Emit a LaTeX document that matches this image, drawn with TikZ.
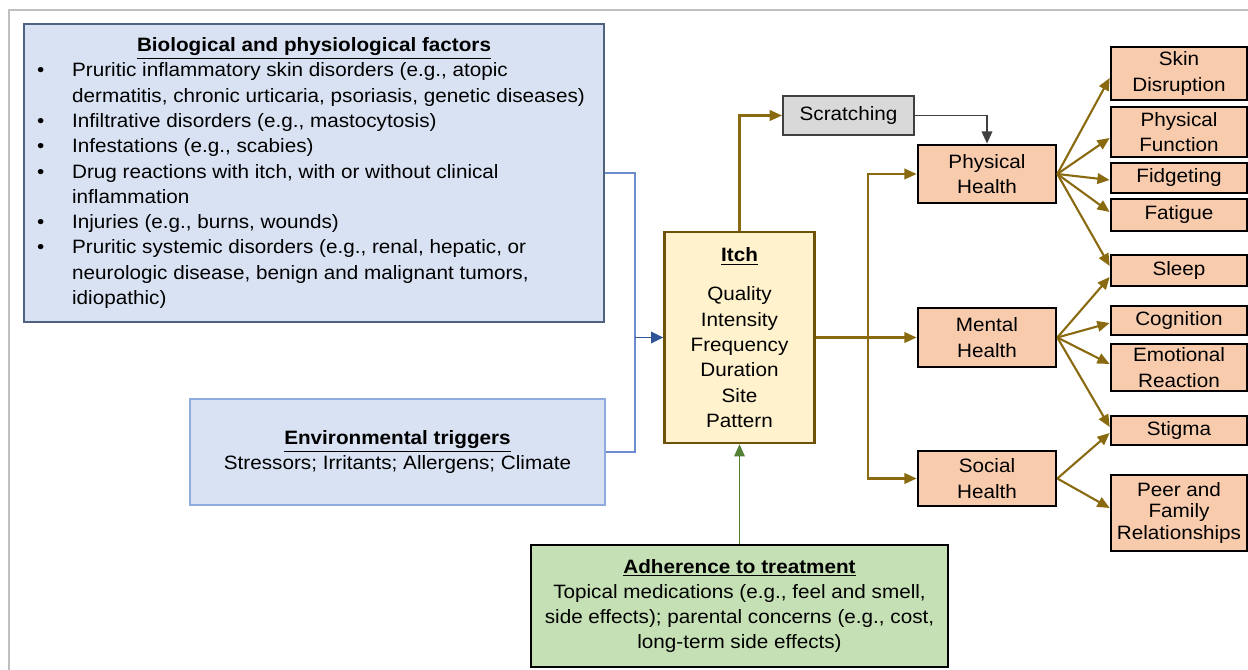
\documentclass[tikz,border=0pt]{standalone}
\usepackage{fontspec}
\setmainfont{Liberation Sans}[FakeStretch=1.07]
\usepackage{xcolor}
\definecolor{bioblue}{RGB}{217, 226, 243}
\definecolor{bioedge}{RGB}{79, 98, 128}
\definecolor{envedge}{RGB}{143, 170, 220}
\definecolor{bluelink}{RGB}{110, 140, 205}
\definecolor{bluehead}{RGB}{47, 85, 151}
\definecolor{itchfill}{RGB}{255, 242, 204}
\definecolor{itchedge}{RGB}{110, 82, 10}
\definecolor{fanolive}{RGB}{138, 106, 16}
\definecolor{scratchfill}{RGB}{217, 217, 217}
\definecolor{scratchedge}{RGB}{64, 64, 64}
\definecolor{salmon}{RGB}{248, 203, 173}
\definecolor{adhgreen}{RGB}{197, 224, 180}
\definecolor{adharrow}{RGB}{84, 130, 53}
\definecolor{framegray}{RGB}{191, 191, 191}
\usepackage{tikz}
\usetikzlibrary{
  arrows.meta,
  positioning
}

\newcommand{\biobullet}{\hspace*{-0.12cm}\textbullet}

\tikzset{
  box/.style={draw, rectangle, inner sep=0pt, align=center,
    font=\fontsize{11}{14.4}\selectfont},
  biobox/.style={box, fill=bioblue, draw=bioedge, line width=1.2pt},
  envbox/.style={box, fill=bioblue, draw=envedge, line width=1pt},
  itchbox/.style={box, fill=itchfill, draw=itchedge, line width=1.3pt},
  scratchbox/.style={box, fill=scratchfill, draw=scratchedge, line width=1.1pt},
  healthbox/.style={box, fill=salmon, draw=black, line width=1.5pt, minimum width=2.76cm},
  outcomebox/.style={box, fill=salmon, draw=black, line width=1.5pt, minimum width=2.72cm},
  adhbox/.style={box, fill=adhgreen, draw=black, line width=1.5pt},
  bluelinkline/.style={draw=bluelink, line width=0.9pt},
  bluearrow/.style={draw=bluehead, line width=1.1pt, -{Triangle[length=7pt, width=6.5pt]}},
  olivearrow/.style={draw=fanolive, line width=1.2pt, -{Triangle[length=7pt, width=6pt]}},
  darkarrow/.style={draw=scratchedge, line width=1pt, -{Triangle[length=7pt, width=6pt]}},
  greenarrow/.style={draw=adharrow, line width=1pt, -{Triangle[length=7pt, width=6pt]}}
}

\begin{document}
\begin{tikzpicture}[scale=1]

  \useasboundingbox (0, 0) rectangle (24.96, -13.4);

  % outer frame, cut off at right and bottom
  \draw[framegray, line width=0.9pt] (24.96, -0.2) -- (0.18, -0.2) -- (0.18, -13.4);

  % influences on the left
  \node[biobox, minimum width=11.6cm, minimum height=5.96cm] (bio) at (6.28, -3.46) {%
    \begin{tabular}{@{}p{0.58cm}@{}l@{}}
      \multicolumn{2}{c}{\underline{\textbf{Biological and physiological factors}}}\\
      \biobullet & Pruritic inflammatory skin disorders (e.g., atopic\\
      & dermatitis, chronic urticaria, psoriasis, genetic diseases)\\
      \biobullet & Infiltrative disorders (e.g., mastocytosis)\\
      \biobullet & Infestations (e.g., scabies)\\
      \biobullet & Drug reactions with itch, with or without clinical\\
      & inflammation\\
      \biobullet & Injuries (e.g., burns, wounds)\\
      \biobullet & Pruritic systemic disorders (e.g., renal, hepatic, or\\
      & neurologic disease, benign and malignant tumors,\\
      & idiopathic)
    \end{tabular}};
  \node[envbox, minimum width=8.3cm, minimum height=2.12cm] (env) at (7.95, -9.04)
    {\underline{\textbf{Environmental triggers}}\\Stressors; Irritants; Allergens; Climate};

  % itch in the middle
  \node[itchbox, minimum width=3cm, minimum height=4.22cm] (itch) at (14.79, -6.75)
    {\underline{\textbf{Itch}}\\[0.28cm]Quality\\Intensity\\Frequency\\Duration\\Site\\Pattern};
  \node[scratchbox, minimum width=2.62cm, minimum height=0.78cm] (scratch) at (16.97, -2.31) {Scratching};
  \node[adhbox, minimum width=8.34cm, minimum height=2.44cm] (adh) at (14.79, -12.12)
    {\underline{\textbf{Adherence to treatment}}\\Topical medications (e.g., feel and smell,\\
     side effects); parental concerns (e.g., cost,\\long-term side effects)};

  % health domains
  \node[healthbox, minimum height=1.16cm] (ph) at (19.74, -3.48) {Physical\\Health};
  \node[healthbox, minimum height=1.18cm] (mh) at (19.74, -6.75) {Mental\\Health};
  \node[healthbox, minimum height=1.1cm] (sh) at (19.74, -9.57) {Social\\Health};

  % outcomes on the right
  \node[outcomebox, minimum height=1.06cm] (skin) at (23.58, -1.47) {Skin\\Disruption};
  \node[outcomebox, minimum height=1.0cm] (func) at (23.58, -2.64) {Physical\\Function};
  \node[outcomebox, minimum height=0.6cm] (fidget) at (23.58, -3.56) {Fidgeting};
  \node[outcomebox, minimum height=0.64cm] (fatigue) at (23.58, -4.3) {Fatigue};
  \node[outcomebox, minimum height=0.62cm] (sleep) at (23.58, -5.41) {Sleep};
  \node[outcomebox, minimum height=0.58cm] (cognition) at (23.58, -6.41) {Cognition};
  \node[outcomebox, minimum height=0.94cm] (emotion) at (23.58, -7.35) {Emotional\\Reaction};
  \node[outcomebox, minimum height=0.58cm] (stigma) at (23.58, -8.61) {Stigma};
  \node[outcomebox, minimum height=1.52cm] (peer) at (23.58, -10.26)
    {Peer and\\[-1.9pt]Family\\[-1.9pt]Relationships};

  % blue links into itch
  \coordinate (bluejoin) at (12.7, -6.75);
  \draw[bluelinkline] (bio.east) -| (bluejoin) |- (env.east);
  \draw[bluearrow] (bluejoin) -- (itch.west);

  % itch to scratching and health
  \coordinate (olivejoin) at (17.36, -6.75);
  \draw[olivearrow] (itch.north) |- (scratch.west);
  \draw[darkarrow] (scratch.east) -| (ph.north);
  \draw[olivearrow] (itch.east) -- (mh.west);
  \draw[olivearrow] (olivejoin) |- (ph.west);
  \draw[olivearrow] (olivejoin) |- (sh.west);
  \draw[greenarrow] (adh.north) -- (itch.south);

  % fans to the outcomes
  \foreach \t/\s in {skin/-0.09, func/-0.12, fidget/-0.04, fatigue/0.06, sleep/0.09} {
    \draw[olivearrow] (ph.east) -- ([yshift=\s cm]\t.west);
  }
  \foreach \t/\s in {sleep/-0.13, cognition/-0.05, emotion/0.07, stigma/0.07} {
    \draw[olivearrow] (mh.east) -- ([yshift=\s cm]\t.west);
  }
  \foreach \t/\s in {stigma/-0.05, peer/0.1} {
    \draw[olivearrow] (sh.east) -- ([yshift=\s cm]\t.west);
  }

\end{tikzpicture}
\end{document}
